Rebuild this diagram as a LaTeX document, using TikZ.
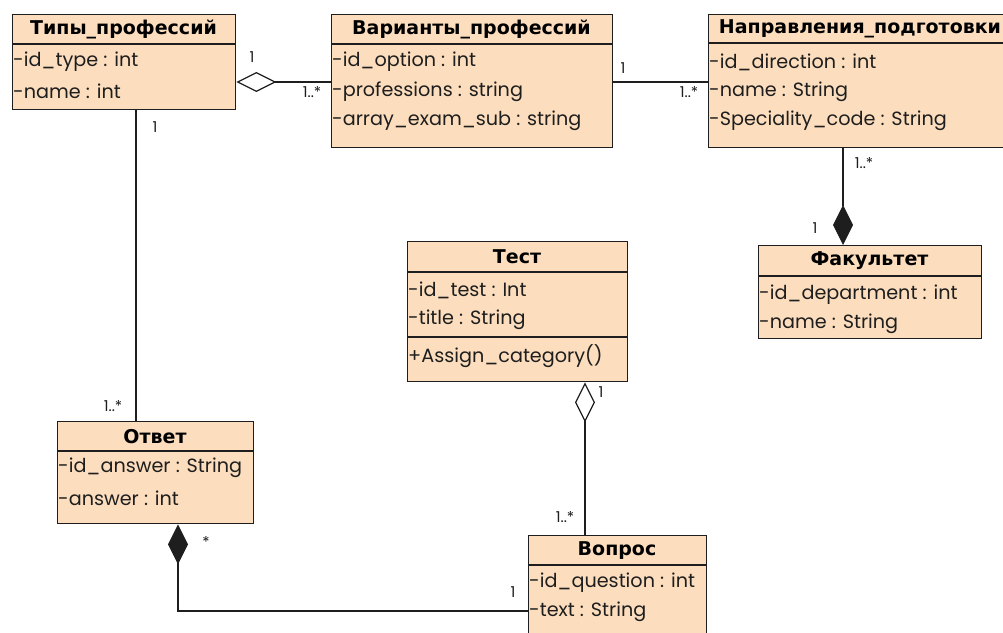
\documentclass[tikz,border=0pt]{standalone}
\usepackage{fontspec}
\setmainfont{Poppins}
\newfontfamily\headfont{DejaVu Sans}
\usetikzlibrary{arrows.meta,calc}
\definecolor{peach}{RGB}{252,222,190}
\definecolor{ink}{RGB}{30,30,30}
\tikzset{
  cls/.style={draw=ink, fill=peach, line width=1.4pt, inner sep=0pt, anchor=north west},
  head/.style={font=\headfont\bfseries\fontsize{19}{19}\selectfont, inner sep=0pt},
  attr/.style={font=\fontsize{19.2}{20}\selectfont, anchor=west, inner sep=0pt, text=ink},
  mult/.style={font=\fontsize{15}{15}\selectfont, inner sep=0pt, text=ink},
  sep/.style={draw=ink, line width=1.4pt},
  conn/.style={draw=ink, line width=1.2pt},
  aggr/.style={conn, -{Diamond[open, length=40pt, width=20pt, line width=1.2pt]}},
  comp/.style={conn, -{Diamond[length=40pt, width=20pt]}},
}
\begin{document}
\begin{tikzpicture}[x=1pt, y=-1pt]
\useasboundingbox (0,0) rectangle (1003,632);

% Типы_профессий
\node[cls, minimum width=223pt, minimum height=95pt] (types) at (12,14) {};
\node[head] (typesT) at (123.5,29) {Типы\_профессий};
\draw[sep] (12,44) -- (235,44);
\node[attr] (typesA1) at (13,62) {-id\_type : int};
\node[attr] (typesA2) at (13,91) {-name : int};

% Варианты_профессий
\node[cls, minimum width=281pt, minimum height=133pt] (opts) at (331,14) {};
\node[head] (optsT) at (471.5,29) {Варианты\_профессий};
\draw[sep] (331,44) -- (612,44);
\node[attr] (optsA1) at (332,62) {-id\_option : int};
\node[attr] (optsA2) at (332,92) {-professions : string};
\node[attr] (optsA3) at (332,121) {-array\_exam\_sub : string};

% Направления_подготовки
\node[cls, minimum width=305pt, minimum height=133pt] (dirs) at (708,14) {};
\node[head] (dirsT) at (860,29) {Направления\_подготовки};
\draw[sep] (708,43) -- (1013,43);
\node[attr] (dirsA1) at (709,62) {-id\_direction : int};
\node[attr] (dirsA2) at (709,92) {-name : String};
\node[attr] (dirsA3) at (709,121) {-Speciality\_code : String};

% Факультет
\node[cls, minimum width=223pt, minimum height=93pt] (fac) at (758,245) {};
\node[head] (facT) at (869.5,261) {Факультет};
\draw[sep] (758,276) -- (981,276);
\node[attr] (facA1) at (759,295) {-id\_department : int};
\node[attr] (facA2) at (759,324) {-name : String};

% Тест
\node[cls, minimum width=220pt, minimum height=140pt] (test) at (407,241) {};
\node[head] (testT) at (517,257) {Тест};
\draw[sep] (407,272) -- (627,272);
\node[attr] (testA1) at (408,290) {-id\_test : Int};
\node[attr] (testA2) at (408,320) {-title : String};
\draw[sep] (407,337) -- (627,337);
\node[attr] (testM1) at (408,356) {+Assign\_category()};

% Ответ
\node[cls, minimum width=196pt, minimum height=102pt] (ans) at (57,421) {};
\node[head] (ansT) at (155,437) {Ответ};
\draw[sep] (57,451) -- (253,451);
\node[attr] (ansA1) at (58,468) {-id\_answer : String};
\node[attr] (ansA2) at (58,498) {-answer : int};

% Вопрос
\node[cls, minimum width=178pt, minimum height=110pt] (quest) at (528,535) {};
\node[head] (questT) at (617,551) {Вопрос};
\draw[sep] (528,565) -- (706,565);
\node[attr] (questA1) at (529,583) {-id\_question : int};
\node[attr] (questA2) at (529,612) {-text : String};

% связи
\coordinate (typesR) at ($(types.north east)+(0,68)$);
\coordinate (optsL) at ($(opts.north west)+(0,68)$);
\coordinate (optsR) at ($(opts.north east)+(0,68)$);
\coordinate (dirsL) at ($(dirs.north west)+(0,68)$);
\coordinate (typesB) at ($(types.south west)+(124,0)$);
\coordinate (ansT1) at ($(ans.north west)+(79,0)$);
\coordinate (dirsB) at ($(dirs.south west)+(135,0)$);
\coordinate (facT1) at ($(fac.north west)+(85,0)$);
\coordinate (testB) at ($(test.south west)+(178,0)$);
\coordinate (questT1) at ($(quest.north west)+(57,0)$);
\coordinate (ansB) at ($(ans.south west)+(121,0)$);
\coordinate (questL) at ($(quest.north west)+(0,76)$);

\draw[aggr] (optsL) -- (typesR);
\draw[conn] (optsR) -- (dirsL);
\draw[comp] (dirsB) -- (facT1);
\draw[conn] (typesB) -- (ansT1);
\draw[aggr] (questT1) -- (testB);
\draw[comp] (questL) -- (ansB |- questL) -- (ansB);

% кратности
\node[mult] (m1) at (252,57) {1};
\node[mult] (m2) at (312,92) {1..*};
\node[mult] (m3) at (623,68) {1};
\node[mult] (m4) at (689,92) {1..*};
\node[mult] (m5) at (864,163) {1..*};
\node[mult] (m6) at (815,228) {1};
\node[mult] (m7) at (155,127) {1};
\node[mult] (m8) at (113,406) {1..*};
\node[mult] (m9) at (601,392) {1};
\node[mult] (m10) at (565,517) {1..*};
\node[mult] (m11) at (206,542) {*};
\node[mult] (m12) at (513,592) {1};
\end{tikzpicture}
\end{document}
